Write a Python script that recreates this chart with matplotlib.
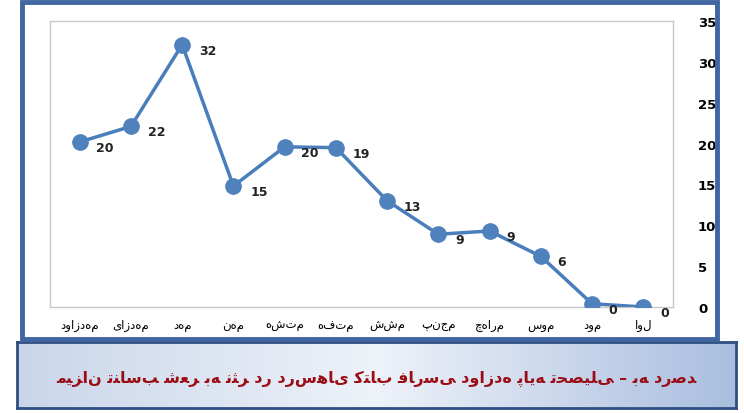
import matplotlib
matplotlib.use("Agg")
import matplotlib.pyplot as plt
from matplotlib.patches import Rectangle
from matplotlib.colors import LinearSegmentedColormap
import numpy as np

categories = ["دوازدهم", "یازدهم", "دهم", "نهم", "هشتم", "هفتم", "ششم", "پنجم", "چهارم", "سوم", "دوم", "اول"]
values = [20.2, 22.1, 32.1, 14.8, 19.6, 19.5, 13.0, 8.9, 9.3, 6.2, 0.4, 0.0]
labels = ["20", "22", "32", "15", "20", "19", "13", "9", "9", "6", "0", "0"]
yticks = [0, 5, 10, 15, 20, 25, 30, 35]
title = "میزان تناسب شعر به نثر در درس\u200cهای کتاب فارسی دوازده پایه تحصیلی – به درصد"

FORMS = {
 'ا': (0xFE8D, 0xFE8E), 'آ': (0xFE81, 0xFE82),
 'ب': (0xFE8F, 0xFE90, 0xFE91, 0xFE92), 'پ': (0xFB56, 0xFB57, 0xFB58, 0xFB59),
 'ت': (0xFE95, 0xFE96, 0xFE97, 0xFE98), 'ث': (0xFE99, 0xFE9A, 0xFE9B, 0xFE9C),
 'ج': (0xFE9D, 0xFE9E, 0xFE9F, 0xFEA0), 'چ': (0xFB7A, 0xFB7B, 0xFB7C, 0xFB7D),
 'ح': (0xFEA1, 0xFEA2, 0xFEA3, 0xFEA4), 'خ': (0xFEA5, 0xFEA6, 0xFEA7, 0xFEA8),
 'د': (0xFEA9, 0xFEAA), 'ذ': (0xFEAB, 0xFEAC), 'ر': (0xFEAD, 0xFEAE),
 'ز': (0xFEAF, 0xFEB0), 'ژ': (0xFB8A, 0xFB8B),
 'س': (0xFEB1, 0xFEB2, 0xFEB3, 0xFEB4), 'ش': (0xFEB5, 0xFEB6, 0xFEB7, 0xFEB8),
 'ص': (0xFEB9, 0xFEBA, 0xFEBB, 0xFEBC), 'ع': (0xFEC9, 0xFECA, 0xFECB, 0xFECC),
 'ف': (0xFED1, 0xFED2, 0xFED3, 0xFED4), 'ق': (0xFED5, 0xFED6, 0xFED7, 0xFED8),
 'ک': (0xFB8E, 0xFB8F, 0xFB90, 0xFB91), 'گ': (0xFB92, 0xFB93, 0xFB94, 0xFB95),
 'ل': (0xFEDD, 0xFEDE, 0xFEDF, 0xFEE0), 'م': (0xFEE1, 0xFEE2, 0xFEE3, 0xFEE4),
 'ن': (0xFEE5, 0xFEE6, 0xFEE7, 0xFEE8), 'و': (0xFEED, 0xFEEE),
 'ه': (0xFEE9, 0xFEEA, 0xFEEB, 0xFEEC), 'ی': (0xFBFC, 0xFBFD, 0xFBFE, 0xFBFF),
}

def shape(s):
    out = []
    n = len(s)
    for i, c in enumerate(s):
        if c == '\u200c':
            continue
        if c not in FORMS:
            out.append(c); continue
        f = FORMS[c]
        p = s[i-1] if i > 0 else ''
        nx = s[i+1] if i + 1 < n else ''
        jp = p in FORMS and len(FORMS[p]) == 4
        jn = nx in FORMS and len(f) == 4
        if jp and jn: ch = f[3]
        elif jp: ch = f[1]
        elif jn: ch = f[2]
        else: ch = f[0]
        out.append(chr(ch))
    return ''.join(out)

W, H = 744, 414
fig = plt.figure(figsize=(W/100, H/100), dpi=100)
fig.patch.set_facecolor("white")

fig.patches.append(Rectangle((22/W, 1-340/H), (717-22)/W, (340-3)/H, transform=fig.transFigure,
                             fill=False, edgecolor="#3f66a0", linewidth=3.5, zorder=0))

ax = fig.add_axes([50/W, 1-308/H, (673-50)/W, (308-22)/H])
x = np.arange(len(categories))
ax.plot(x, values, color="#4a7ebb", linewidth=2.5, marker="o", markersize=11,
        markerfacecolor="#4f81bd", markeredgecolor="#4f81bd", zorder=3)
for xi, v, l in zip(x, values, labels):
    ax.annotate(l, (xi, v), xytext=(12, -4), textcoords="offset points",
                fontsize=9, fontweight="bold", color="#222222", va="center")
ax.set_xlim(-0.58, len(categories) - 0.42)
ax.set_ylim(0, 35)
ax.set_yticks(yticks)
ax.yaxis.tick_right()
ax.tick_params(axis="y", length=0, pad=18, labelsize=9.5)
for t in ax.get_yticklabels():
    t.set_fontweight("bold")
ax.set_xticks(x)
ax.set_xticklabels(categories, fontsize=8.5)
ax.tick_params(axis="x", length=0, pad=8)
for s in ax.spines.values():
    s.set_color("#c8c8c8")
    s.set_linewidth(1)

cap = fig.add_axes([17/W, 1-409/H, (736-17)/W, (409-343)/H])
grad = np.linspace(0, 1, 256).reshape(1, -1)
cmap = LinearSegmentedColormap.from_list("g", ["#c9d6ea", "#eef2f9", "#a9bedf"])
cap.imshow(grad, aspect="auto", cmap=cmap, extent=[0, 1, 0, 1])
cap.set_xlim(0, 1); cap.set_ylim(0, 1)
cap.set_xticks([]); cap.set_yticks([])
for s in cap.spines.values():
    s.set_color("#2f4f80"); s.set_linewidth(2)
cap.text(0.5, 0.45, shape(title), ha="center", va="center", fontsize=11.5,
         fontweight="bold", color="#9b0d14", family=["DejaVu Sans"])

fig.savefig("out.png", dpi=100)
